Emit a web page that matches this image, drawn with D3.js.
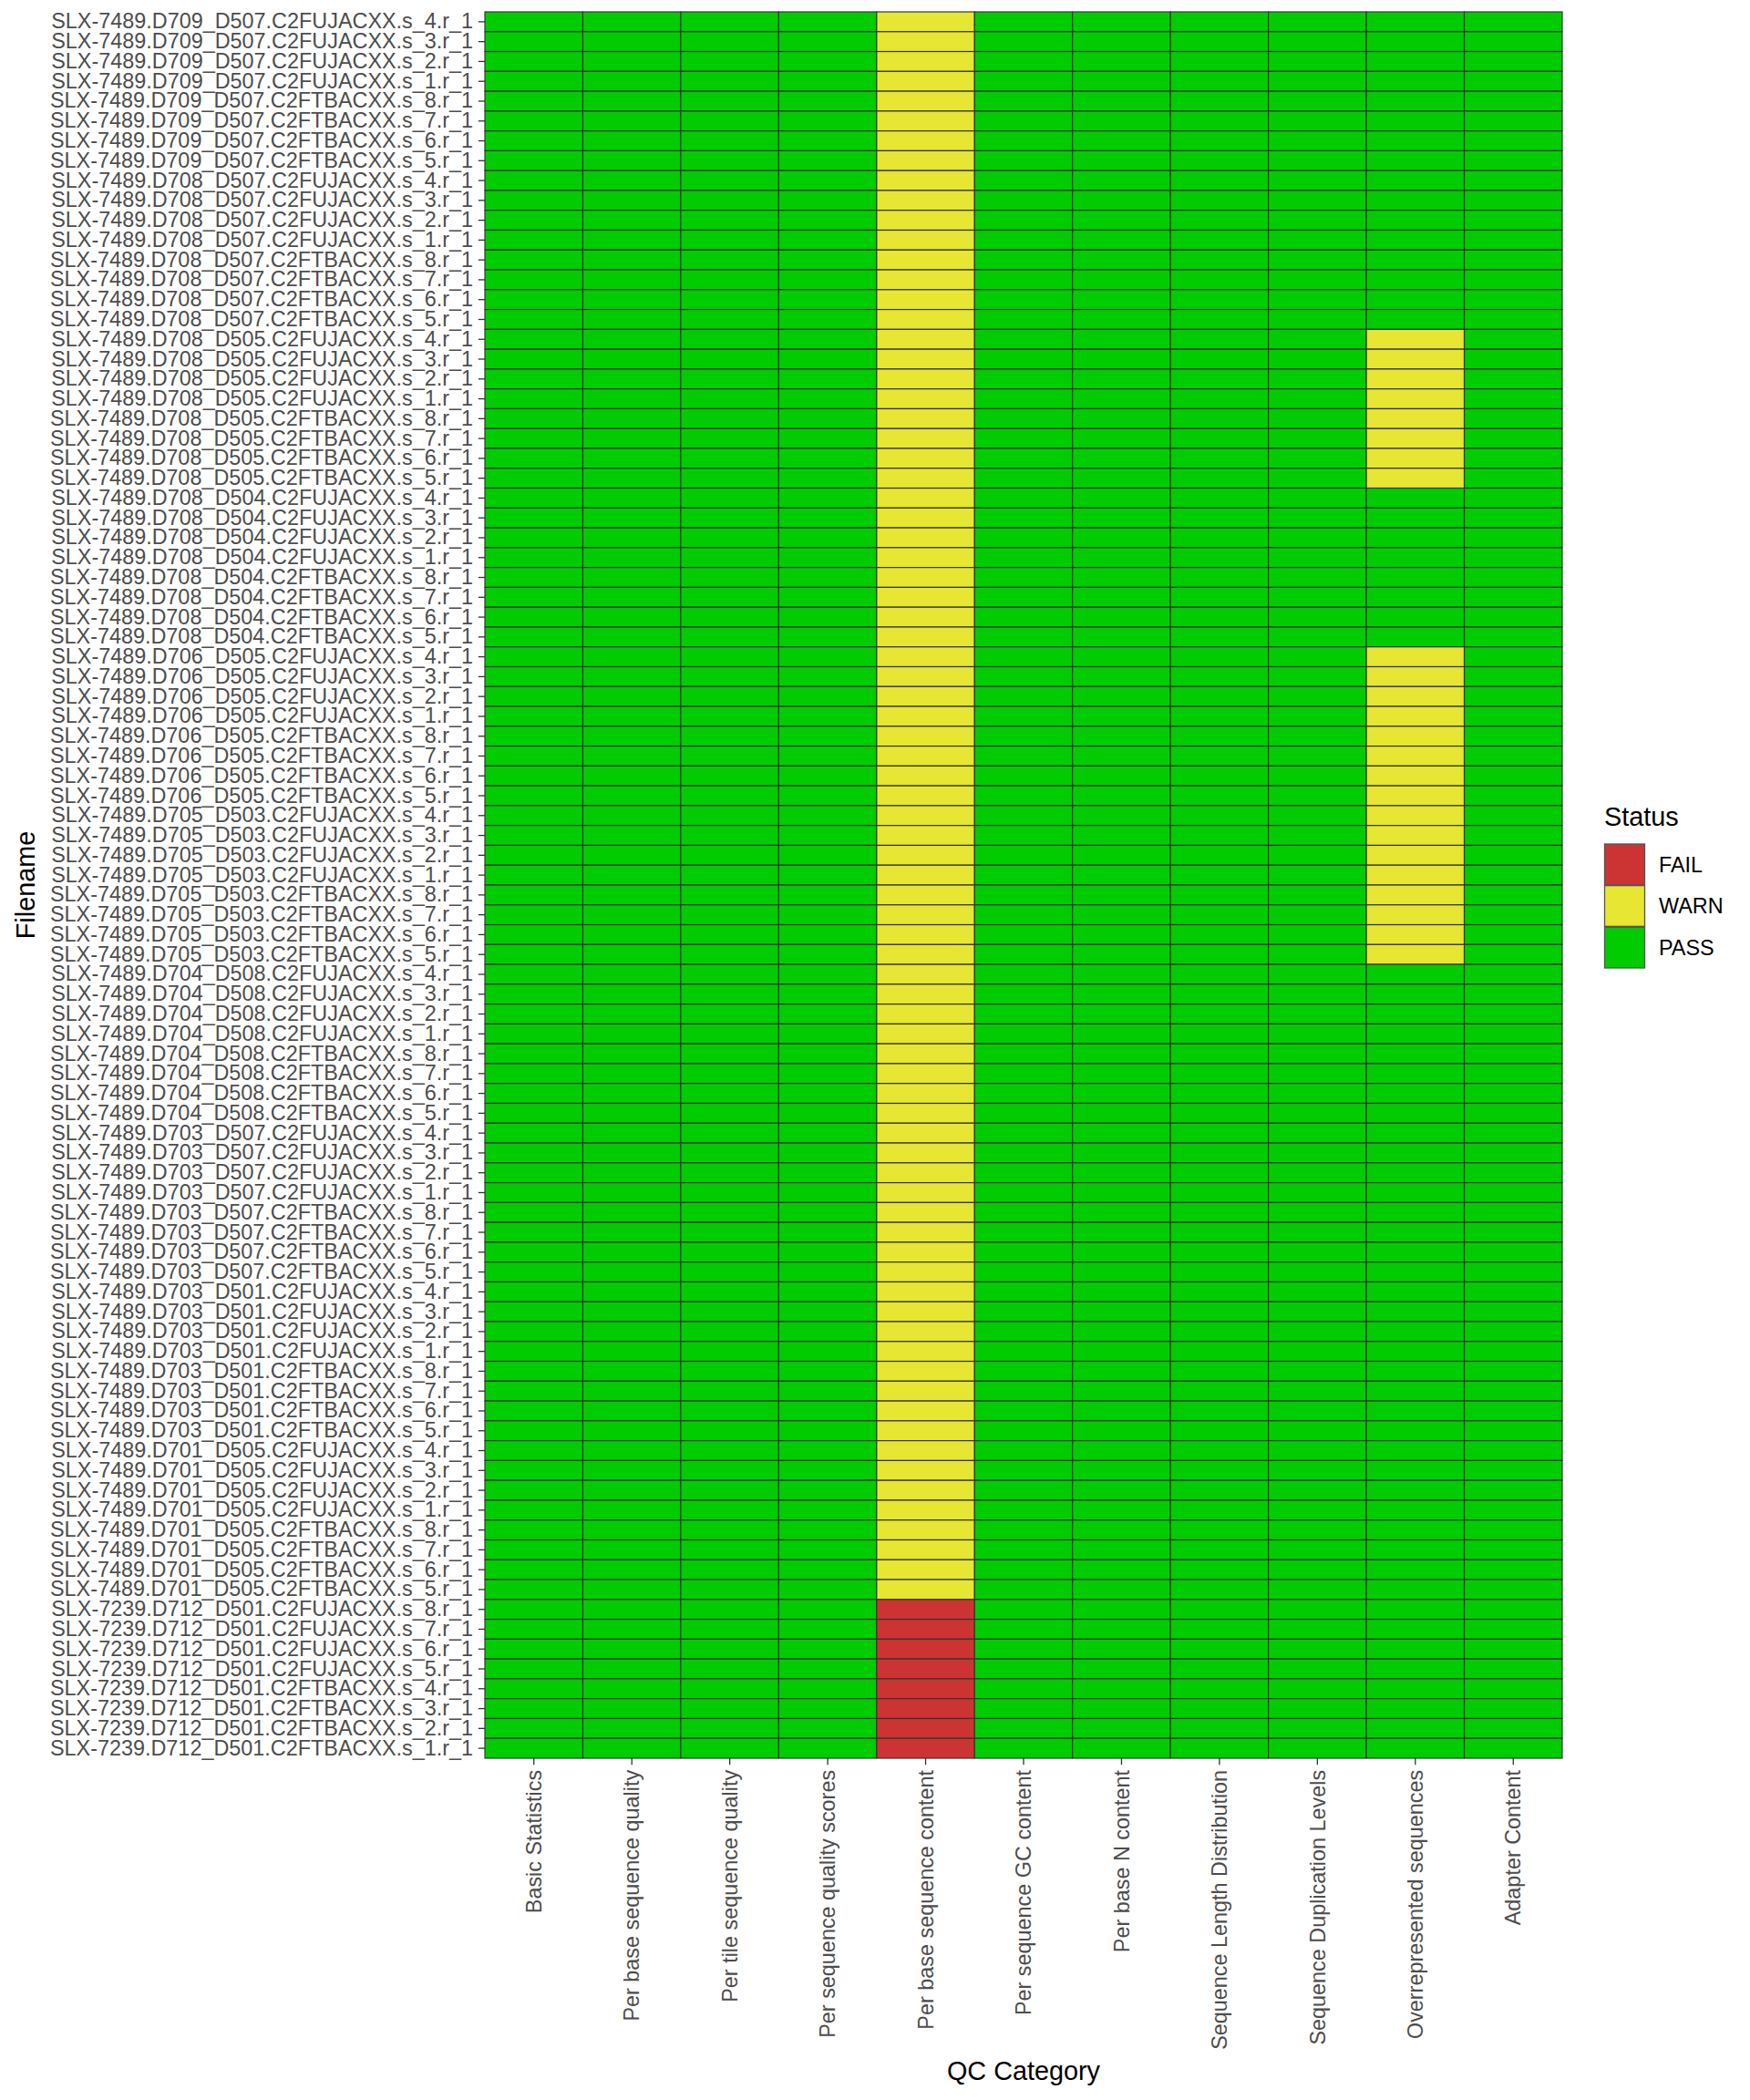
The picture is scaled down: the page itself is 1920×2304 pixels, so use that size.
<!DOCTYPE html>
<html>
<head>
<meta charset="utf-8">
<script src="https://cdn.jsdelivr.net/npm/d3@7"></script>
<style>
  html, body { margin: 0; padding: 0; background: #fff; }
  svg { display: block; font-family: "Liberation Sans", Arial, Helvetica, sans-serif; }
</style>
</head>
<body>
<svg id="chart" width="1920" height="2304"></svg>
<script>
// ---------- DATA ----------
const categories = [
  "Basic Statistics",
  "Per base sequence quality",
  "Per tile sequence quality",
  "Per sequence quality scores",
  "Per base sequence content",
  "Per sequence GC content",
  "Per base N content",
  "Sequence Length Distribution",
  "Sequence Duplication Levels",
  "Overrepresented sequences",
  "Adapter Content"
];

// top to bottom
const filenames = [
  "SLX-7489.D709_D507.C2FUJACXX.s_4.r_1","SLX-7489.D709_D507.C2FUJACXX.s_3.r_1","SLX-7489.D709_D507.C2FUJACXX.s_2.r_1","SLX-7489.D709_D507.C2FUJACXX.s_1.r_1",
  "SLX-7489.D709_D507.C2FTBACXX.s_8.r_1","SLX-7489.D709_D507.C2FTBACXX.s_7.r_1","SLX-7489.D709_D507.C2FTBACXX.s_6.r_1","SLX-7489.D709_D507.C2FTBACXX.s_5.r_1",
  "SLX-7489.D708_D507.C2FUJACXX.s_4.r_1","SLX-7489.D708_D507.C2FUJACXX.s_3.r_1","SLX-7489.D708_D507.C2FUJACXX.s_2.r_1","SLX-7489.D708_D507.C2FUJACXX.s_1.r_1",
  "SLX-7489.D708_D507.C2FTBACXX.s_8.r_1","SLX-7489.D708_D507.C2FTBACXX.s_7.r_1","SLX-7489.D708_D507.C2FTBACXX.s_6.r_1","SLX-7489.D708_D507.C2FTBACXX.s_5.r_1",
  "SLX-7489.D708_D505.C2FUJACXX.s_4.r_1","SLX-7489.D708_D505.C2FUJACXX.s_3.r_1","SLX-7489.D708_D505.C2FUJACXX.s_2.r_1","SLX-7489.D708_D505.C2FUJACXX.s_1.r_1",
  "SLX-7489.D708_D505.C2FTBACXX.s_8.r_1","SLX-7489.D708_D505.C2FTBACXX.s_7.r_1","SLX-7489.D708_D505.C2FTBACXX.s_6.r_1","SLX-7489.D708_D505.C2FTBACXX.s_5.r_1",
  "SLX-7489.D708_D504.C2FUJACXX.s_4.r_1","SLX-7489.D708_D504.C2FUJACXX.s_3.r_1","SLX-7489.D708_D504.C2FUJACXX.s_2.r_1","SLX-7489.D708_D504.C2FUJACXX.s_1.r_1",
  "SLX-7489.D708_D504.C2FTBACXX.s_8.r_1","SLX-7489.D708_D504.C2FTBACXX.s_7.r_1","SLX-7489.D708_D504.C2FTBACXX.s_6.r_1","SLX-7489.D708_D504.C2FTBACXX.s_5.r_1",
  "SLX-7489.D706_D505.C2FUJACXX.s_4.r_1","SLX-7489.D706_D505.C2FUJACXX.s_3.r_1","SLX-7489.D706_D505.C2FUJACXX.s_2.r_1","SLX-7489.D706_D505.C2FUJACXX.s_1.r_1",
  "SLX-7489.D706_D505.C2FTBACXX.s_8.r_1","SLX-7489.D706_D505.C2FTBACXX.s_7.r_1","SLX-7489.D706_D505.C2FTBACXX.s_6.r_1","SLX-7489.D706_D505.C2FTBACXX.s_5.r_1",
  "SLX-7489.D705_D503.C2FUJACXX.s_4.r_1","SLX-7489.D705_D503.C2FUJACXX.s_3.r_1","SLX-7489.D705_D503.C2FUJACXX.s_2.r_1","SLX-7489.D705_D503.C2FUJACXX.s_1.r_1",
  "SLX-7489.D705_D503.C2FTBACXX.s_8.r_1","SLX-7489.D705_D503.C2FTBACXX.s_7.r_1","SLX-7489.D705_D503.C2FTBACXX.s_6.r_1","SLX-7489.D705_D503.C2FTBACXX.s_5.r_1",
  "SLX-7489.D704_D508.C2FUJACXX.s_4.r_1","SLX-7489.D704_D508.C2FUJACXX.s_3.r_1","SLX-7489.D704_D508.C2FUJACXX.s_2.r_1","SLX-7489.D704_D508.C2FUJACXX.s_1.r_1",
  "SLX-7489.D704_D508.C2FTBACXX.s_8.r_1","SLX-7489.D704_D508.C2FTBACXX.s_7.r_1","SLX-7489.D704_D508.C2FTBACXX.s_6.r_1","SLX-7489.D704_D508.C2FTBACXX.s_5.r_1",
  "SLX-7489.D703_D507.C2FUJACXX.s_4.r_1","SLX-7489.D703_D507.C2FUJACXX.s_3.r_1","SLX-7489.D703_D507.C2FUJACXX.s_2.r_1","SLX-7489.D703_D507.C2FUJACXX.s_1.r_1",
  "SLX-7489.D703_D507.C2FTBACXX.s_8.r_1","SLX-7489.D703_D507.C2FTBACXX.s_7.r_1","SLX-7489.D703_D507.C2FTBACXX.s_6.r_1","SLX-7489.D703_D507.C2FTBACXX.s_5.r_1",
  "SLX-7489.D703_D501.C2FUJACXX.s_4.r_1","SLX-7489.D703_D501.C2FUJACXX.s_3.r_1","SLX-7489.D703_D501.C2FUJACXX.s_2.r_1","SLX-7489.D703_D501.C2FUJACXX.s_1.r_1",
  "SLX-7489.D703_D501.C2FTBACXX.s_8.r_1","SLX-7489.D703_D501.C2FTBACXX.s_7.r_1","SLX-7489.D703_D501.C2FTBACXX.s_6.r_1","SLX-7489.D703_D501.C2FTBACXX.s_5.r_1",
  "SLX-7489.D701_D505.C2FUJACXX.s_4.r_1","SLX-7489.D701_D505.C2FUJACXX.s_3.r_1","SLX-7489.D701_D505.C2FUJACXX.s_2.r_1","SLX-7489.D701_D505.C2FUJACXX.s_1.r_1",
  "SLX-7489.D701_D505.C2FTBACXX.s_8.r_1","SLX-7489.D701_D505.C2FTBACXX.s_7.r_1","SLX-7489.D701_D505.C2FTBACXX.s_6.r_1","SLX-7489.D701_D505.C2FTBACXX.s_5.r_1",
  "SLX-7239.D712_D501.C2FUJACXX.s_8.r_1","SLX-7239.D712_D501.C2FUJACXX.s_7.r_1","SLX-7239.D712_D501.C2FUJACXX.s_6.r_1","SLX-7239.D712_D501.C2FUJACXX.s_5.r_1",
  "SLX-7239.D712_D501.C2FTBACXX.s_4.r_1","SLX-7239.D712_D501.C2FTBACXX.s_3.r_1","SLX-7239.D712_D501.C2FTBACXX.s_2.r_1","SLX-7239.D712_D501.C2FTBACXX.s_1.r_1"
];

// one string per file (same order), one letter per category: P=PASS, W=WARN, F=FAIL
const statusCodes = [
  "PPPPWPPPPPP","PPPPWPPPPPP","PPPPWPPPPPP","PPPPWPPPPPP","PPPPWPPPPPP","PPPPWPPPPPP","PPPPWPPPPPP","PPPPWPPPPPP",
  "PPPPWPPPPPP","PPPPWPPPPPP","PPPPWPPPPPP","PPPPWPPPPPP","PPPPWPPPPPP","PPPPWPPPPPP","PPPPWPPPPPP","PPPPWPPPPPP",
  "PPPPWPPPPWP","PPPPWPPPPWP","PPPPWPPPPWP","PPPPWPPPPWP","PPPPWPPPPWP","PPPPWPPPPWP","PPPPWPPPPWP","PPPPWPPPPWP",
  "PPPPWPPPPPP","PPPPWPPPPPP","PPPPWPPPPPP","PPPPWPPPPPP","PPPPWPPPPPP","PPPPWPPPPPP","PPPPWPPPPPP","PPPPWPPPPPP",
  "PPPPWPPPPWP","PPPPWPPPPWP","PPPPWPPPPWP","PPPPWPPPPWP","PPPPWPPPPWP","PPPPWPPPPWP","PPPPWPPPPWP","PPPPWPPPPWP",
  "PPPPWPPPPWP","PPPPWPPPPWP","PPPPWPPPPWP","PPPPWPPPPWP","PPPPWPPPPWP","PPPPWPPPPWP","PPPPWPPPPWP","PPPPWPPPPWP",
  "PPPPWPPPPPP","PPPPWPPPPPP","PPPPWPPPPPP","PPPPWPPPPPP","PPPPWPPPPPP","PPPPWPPPPPP","PPPPWPPPPPP","PPPPWPPPPPP",
  "PPPPWPPPPPP","PPPPWPPPPPP","PPPPWPPPPPP","PPPPWPPPPPP","PPPPWPPPPPP","PPPPWPPPPPP","PPPPWPPPPPP","PPPPWPPPPPP",
  "PPPPWPPPPPP","PPPPWPPPPPP","PPPPWPPPPPP","PPPPWPPPPPP","PPPPWPPPPPP","PPPPWPPPPPP","PPPPWPPPPPP","PPPPWPPPPPP",
  "PPPPWPPPPPP","PPPPWPPPPPP","PPPPWPPPPPP","PPPPWPPPPPP","PPPPWPPPPPP","PPPPWPPPPPP","PPPPWPPPPPP","PPPPWPPPPPP",
  "PPPPFPPPPPP","PPPPFPPPPPP","PPPPFPPPPPP","PPPPFPPPPPP","PPPPFPPPPPP","PPPPFPPPPPP","PPPPFPPPPPP","PPPPFPPPPPP"
];

const statusLevels = ["FAIL", "WARN", "PASS"];
const statusColors = ["#CC3333", "#E6E633", "#00CC00"];
const codeToStatus = { F: "FAIL", W: "WARN", P: "PASS" };

// ---------- LAYOUT ----------
const M = { left: 532, right: 1714, top: 13, bottom: 1929 };
const svg = d3.select("#chart");

const x = d3.scaleBand().domain(categories).range([M.left, M.right]).padding(0);
const y = d3.scaleBand().domain(filenames).range([M.top, M.bottom]).padding(0);
const color = d3.scaleOrdinal().domain(statusLevels).range(statusColors);

const cells = [];
filenames.forEach((f, i) => {
  categories.forEach((c, j) => {
    cells.push({ file: f, cat: c, status: codeToStatus[statusCodes[i][j]] });
  });
});

svg.append("g").selectAll("rect").data(cells).join("rect")
  .attr("x", d => x(d.cat))
  .attr("y", d => y(d.file))
  .attr("width", x.bandwidth())
  .attr("height", y.bandwidth())
  .attr("fill", d => color(d.status))
  .attr("stroke", "#353535")
  .attr("stroke-width", 1.2);

const TEXT = "#4D4D4D", TICK = "#333333";
const tickLen = 7.2, tickPad = 5.7, axisFont = 23.4, titleFont = 28.8;

// Y axis
const gy = svg.append("g").attr("transform", `translate(${M.left},0)`)
  .call(d3.axisLeft(y).tickSize(tickLen).tickPadding(tickPad));
gy.select(".domain").remove();
gy.selectAll(".tick line").attr("stroke", TICK).attr("stroke-width", 1.3);
gy.selectAll(".tick text").attr("fill", TEXT).style("font-size", axisFont + "px")
  .attr("font-family", null);

// X axis
const gx = svg.append("g").attr("transform", `translate(0,${M.bottom})`)
  .call(d3.axisBottom(x).tickSize(tickLen).tickPadding(tickPad));
gx.select(".domain").remove();
gx.selectAll(".tick line").attr("stroke", TICK).attr("stroke-width", 1.3);
gx.selectAll(".tick text")
  .attr("fill", TEXT).style("font-size", axisFont + "px")
  .attr("font-family", null)
  .attr("transform", "rotate(-90)")
  .attr("text-anchor", "end")
  .attr("x", -(tickLen + tickPad))
  .attr("y", 0)
  .attr("dy", "0.35em");

// Axis titles
svg.append("text")
  .attr("x", (M.left + M.right) / 2).attr("y", 2282)
  .attr("text-anchor", "middle").attr("fill", "#000")
  .style("font-size", titleFont + "px")
  .text("QC Category");

svg.append("text")
  .attr("transform", `translate(38,${(M.top + M.bottom) / 2}) rotate(-90)`)
  .attr("text-anchor", "middle").attr("fill", "#000")
  .style("font-size", titleFont + "px")
  .text("Filename");

// Legend
const lg = svg.append("g");
lg.append("text").attr("x", 1760).attr("y", 906)
  .attr("fill", "#000").style("font-size", titleFont + "px").text("Status");
const keyY = d3.scaleBand().domain(statusLevels).range([925.5, 1062.5]);
lg.selectAll("rect").data(statusLevels).join("rect")
  .attr("x", 1760.5).attr("y", d => keyY(d) + 0.5)
  .attr("width", 44).attr("height", keyY.bandwidth() - 1)
  .attr("fill", d => color(d))
  .attr("stroke", "#555555").attr("stroke-width", 1.3);
lg.selectAll("text.lab").data(statusLevels).join("text")
  .attr("class", "lab")
  .attr("x", 1820).attr("y", d => keyY(d) + keyY.bandwidth() / 2 + 8.2)
  .attr("fill", "#000").style("font-size", axisFont + "px")
  .text(d => d);
</script>
</body>
</html>
